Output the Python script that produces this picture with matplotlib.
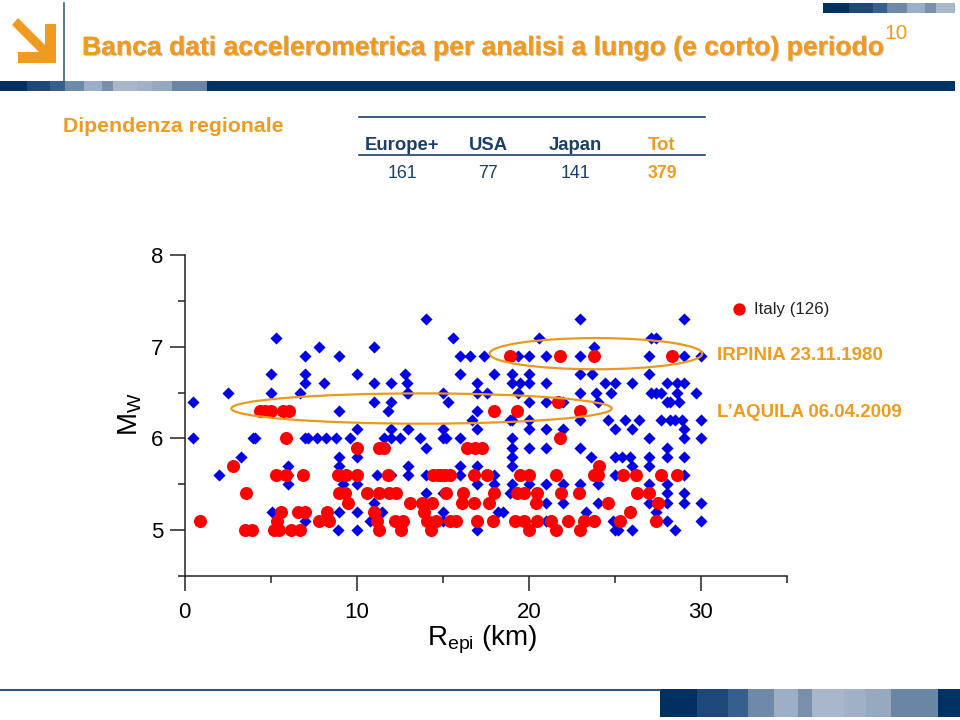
import matplotlib
matplotlib.use('Agg')
import matplotlib.pyplot as plt
from matplotlib.patches import Ellipse, Rectangle
import matplotlib.patheffects as pe

plt.rcParams['font.family'] = ['Liberation Sans', 'DejaVu Sans']
plt.rcParams['mathtext.fontset'] = 'custom'
plt.rcParams['mathtext.rm'] = 'Liberation Sans'

ORANGE = '#F09B20'
NAVY = '#1B3F66'

# world records: repi (km), magnitude
world_r = [14.0, 29.0, 23.0,
           5.3, 15.6, 20.6, 27.1, 27.4,
           7.8, 11.0, 23.8,
           7.0, 9.0, 16.0, 16.6, 17.4, 19.4, 20.0, 21.0, 23.0, 27.0, 29.0, 30.0,
           5.0, 7.0, 10.0, 12.8, 16.0, 18.0, 19.0, 20.0, 23.0, 23.7, 27.0,
           7.0, 8.1, 11.0, 12.0, 12.9, 17.0, 19.0, 19.5, 20.0, 21.0, 24.4, 25.0, 26.0, 28.0, 28.6, 29.0,
           2.5, 5.0, 6.7, 12.9, 13.0, 15.0, 17.0, 17.6, 19.4, 23.0, 23.9, 24.8, 27.1, 27.4, 27.7, 28.6, 29.7,
           0.5, 11.0, 12.0, 15.3, 20.0, 21.0, 22.0, 24.0, 28.0, 28.2, 28.7,
           9.0, 11.8, 17.0,
           16.7, 18.9, 19.0, 20.0, 23.0, 24.6, 25.6, 26.4, 27.7, 28.2, 28.5, 28.9, 30.0,
           10.0, 12.0, 13.0, 15.0, 17.0, 20.0, 21.0, 22.0, 25.0, 26.0, 29.0,
           0.5, 4.0, 4.1, 7.0, 7.2, 7.7, 8.2, 8.8, 9.6, 11.6, 12.0, 12.5, 13.7, 15.0, 15.2, 16.0, 19.0, 27.0, 29.0, 30.0,
           14.0, 19.0, 20.0, 21.0, 23.0, 28.0,
           3.3, 9.0, 10.0, 19.0, 23.6, 25.0, 25.4, 25.9, 27.0, 28.0, 29.0,
           6.0, 9.0, 13.0, 16.0, 17.0, 19.0, 26.0, 27.0,
           2.0, 6.0, 11.2, 12.0, 13.0, 14.0, 16.0, 18.0, 25.0, 29.0,
           6.0, 9.2, 10.0, 17.0, 18.0, 19.0, 20.0, 21.0, 22.0, 23.0, 24.0, 27.0, 28.0,
           14.0, 15.0, 18.9, 28.0, 29.0,
           11.0, 21.0, 22.0, 24.0, 27.0, 28.0, 29.0, 30.0,
           5.1, 9.0, 10.0, 11.5, 15.0, 18.2, 18.5, 23.3, 27.4,
           7.0, 10.8, 15.0, 21.0, 24.9, 28.0, 30.0,
           8.9, 10.0, 17.0, 25.0, 25.2, 26.0, 28.5]
world_m = [7.3, 7.3, 7.3,
           7.1, 7.1, 7.1, 7.1, 7.1,
           7.0, 7.0, 7.0,
           6.9, 6.9, 6.9, 6.9, 6.9, 6.9, 6.9, 6.9, 6.9, 6.9, 6.9, 6.9,
           6.7, 6.7, 6.7, 6.7, 6.7, 6.7, 6.7, 6.7, 6.7, 6.7, 6.7,
           6.6, 6.6, 6.6, 6.6, 6.6, 6.6, 6.6, 6.6, 6.6, 6.6, 6.6, 6.6, 6.6, 6.6, 6.6, 6.6,
           6.5, 6.5, 6.5, 6.5, 6.5, 6.5, 6.5, 6.5, 6.5, 6.5, 6.5, 6.5, 6.5, 6.5, 6.5, 6.5, 6.5,
           6.4, 6.4, 6.4, 6.4, 6.4, 6.4, 6.4, 6.4, 6.4, 6.4, 6.4,
           6.3, 6.3, 6.3,
           6.2, 6.2, 6.2, 6.2, 6.2, 6.2, 6.2, 6.2, 6.2, 6.2, 6.2, 6.2, 6.2,
           6.1, 6.1, 6.1, 6.1, 6.1, 6.1, 6.1, 6.1, 6.1, 6.1, 6.1,
           6.0, 6.0, 6.0, 6.0, 6.0, 6.0, 6.0, 6.0, 6.0, 6.0, 6.0, 6.0, 6.0, 6.0, 6.0, 6.0, 6.0, 6.0, 6.0, 6.0,
           5.9, 5.9, 5.9, 5.9, 5.9, 5.9,
           5.8, 5.8, 5.8, 5.8, 5.8, 5.8, 5.8, 5.8, 5.8, 5.8, 5.8,
           5.7, 5.7, 5.7, 5.7, 5.7, 5.7, 5.7, 5.7,
           5.6, 5.6, 5.6, 5.6, 5.6, 5.6, 5.6, 5.6, 5.6, 5.6,
           5.5, 5.5, 5.5, 5.5, 5.5, 5.5, 5.5, 5.5, 5.5, 5.5, 5.5, 5.5, 5.5,
           5.4, 5.4, 5.4, 5.4, 5.4,
           5.3, 5.3, 5.3, 5.3, 5.3, 5.3, 5.3, 5.3,
           5.2, 5.2, 5.2, 5.2, 5.2, 5.2, 5.2, 5.2, 5.2,
           5.1, 5.1, 5.1, 5.1, 5.1, 5.1, 5.1,
           5.0, 5.0, 5.0, 5.0, 5.0, 5.0, 5.0]

# italian records
italy_r = [18.9, 21.8, 23.8, 28.3,
           21.7,
           4.4, 4.7, 5.0, 5.7, 6.05, 18.0, 19.3, 23.0,
           5.9, 21.8,
           10.0, 11.3, 11.6, 16.4, 16.9, 17.3,
           2.8, 24.1,
           5.3, 5.9, 6.9, 8.9, 9.4, 10.0, 11.8, 14.45, 14.7, 14.9, 15.15, 15.4, 16.8, 17.6, 19.5, 20.0, 21.6, 23.8, 24.0, 25.5, 26.2, 27.7, 28.6,
           3.6, 9.0, 9.3, 10.6, 11.3, 11.9, 12.3, 15.2, 16.2, 18.0, 19.3, 19.7, 20.5, 21.9, 22.9, 26.3, 27.0,
           9.5, 13.1, 13.8, 14.4, 16.1, 16.8, 17.7, 20.4, 24.6, 27.5,
           5.6, 6.6, 7.0, 8.3, 11.0, 13.9, 25.9,
           0.9, 5.4, 7.8, 8.4, 11.2, 12.2, 12.7, 14.1, 14.6, 15.4, 15.8, 17.0, 17.9, 19.2, 19.7, 20.5, 21.3, 22.3, 23.2, 23.8, 25.3, 27.4,
           3.5, 3.9, 5.2, 5.5, 6.2, 6.7, 11.3, 12.6, 14.3, 20.0, 21.6, 23.0]
italy_m = [6.9, 6.9, 6.9, 6.9,
           6.4,
           6.3, 6.3, 6.3, 6.3, 6.3, 6.3, 6.3, 6.3,
           6.0, 6.0,
           5.9, 5.9, 5.9, 5.9, 5.9, 5.9,
           5.7, 5.7,
           5.6, 5.6, 5.6, 5.6, 5.6, 5.6, 5.6, 5.6, 5.6, 5.6, 5.6, 5.6, 5.6, 5.6, 5.6, 5.6, 5.6, 5.6, 5.6, 5.6, 5.6, 5.6, 5.6,
           5.4, 5.4, 5.4, 5.4, 5.4, 5.4, 5.4, 5.4, 5.4, 5.4, 5.4, 5.4, 5.4, 5.4, 5.4, 5.4, 5.4,
           5.3, 5.3, 5.3, 5.3, 5.3, 5.3, 5.3, 5.3, 5.3, 5.3,
           5.2, 5.2, 5.2, 5.2, 5.2, 5.2, 5.2,
           5.1, 5.1, 5.1, 5.1, 5.1, 5.1, 5.1, 5.1, 5.1, 5.1, 5.1, 5.1, 5.1, 5.1, 5.1, 5.1, 5.1, 5.1, 5.1, 5.1, 5.1, 5.1,
           5.0, 5.0, 5.0, 5.0, 5.0, 5.0, 5.0, 5.0, 5.0, 5.0, 5.0, 5.0]

regions = ['Europe+', 'USA', 'Japan', 'Tot']
counts = ['161', '77', '141', '379']

# band colours of the slide template
top_edges = [0, 27, 50, 65, 84, 102, 113, 137, 152, 172, 207, 955]
top_colors = ['#00305f', '#1e4877', '#355f8c', '#6f8aa8', '#9cafc6', '#7990ac',
              '#a8b7ca', '#a0b1c6', '#96a9be', '#6a86a5', '#003264']
corner_edges = [823, 849, 873, 887, 907, 925, 936, 955]
corner_colors = top_colors[:7]
foot_edges = [660, 697, 728, 748, 774, 798, 812, 844, 866, 891, 938, 960]
foot_colors = top_colors


def band(bg, edges, colors, y0, y1):
    for i, c in enumerate(colors):
        bg.add_patch(Rectangle((edges[i], y0), edges[i + 1] - edges[i], y1 - y0,
                               fc=c, ec='none'))


fig = plt.figure(figsize=(9.6, 7.2), dpi=100)

# slide background drawn in pixel coordinates
bg = fig.add_axes([0, 0, 1, 1])
bg.set_xlim(0, 960)
bg.set_ylim(720, 0)
bg.axis('off')

band(bg, top_edges, top_colors, 81, 91)
band(bg, corner_edges, corner_colors, 3, 13)
band(bg, foot_edges, foot_colors, 689, 717)
bg.plot([0, 660], [689.5, 689.5], color='#2F5575', lw=1.5)
bg.plot([64, 64], [3, 81], color='#3C5F80', lw=1.2)

# arrow logo
bg.fill([18, 12, 39, 18, 18, 56, 56, 45, 45], [18, 25, 52, 52, 63, 63, 24, 24, 45], color=ORANGE, lw=0)

title = bg.text(82, 55, 'Banca dati accelerometrica per analisi a lungo (e corto) periodo',
                fontsize=19.1, fontweight='bold', color=ORANGE, va='baseline')
title.set_path_effects([pe.withSimplePatchShadow(offset=(0.8, -0.8), shadow_rgbFace='#999999', alpha=0.5),
                        pe.Normal()])
bg.text(884, 39, '10', fontsize=15, color=ORANGE, va='baseline')
bg.text(63, 132, 'Dipendenza regionale', fontsize=15.3, fontweight='bold', color=ORANGE, va='baseline')

bg.plot([359, 705], [117, 117], color=NAVY, lw=1.2)
bg.plot([359, 705], [155, 155], color=NAVY, lw=1.2)
col_x = [402, 488, 575, 662]
for i in range(4):
    last = i == 3
    bg.text(col_x[i], 150, regions[i], fontsize=13.3, fontweight='bold', ha='center', va='baseline',
            color=ORANGE if last else NAVY)
    bg.text(col_x[i], 178, counts[i], fontsize=12.8, fontweight='bold' if last else 'normal',
            ha='center', va='baseline', color=ORANGE if last else NAVY)

# scatter
ax = fig.add_axes([184.5 / 960, 1 - 576 / 720, (787 - 184.5) / 960, (576 - 255) / 720])
ax.patch.set_alpha(0)
ax.scatter(world_r, world_m, marker='D', s=38, color='#0000E6', linewidths=0, clip_on=False, zorder=2)
ax.scatter(italy_r, italy_m, marker='o', s=88, color='#FF0000', linewidths=0, clip_on=False, zorder=3,
           label='Italy (126)')

ax.set_xlim(0, 35)
ax.set_ylim(4.5, 8)
ax.spines['top'].set_visible(False)
ax.spines['right'].set_visible(False)
for side in ['left', 'bottom']:
    ax.spines[side].set_linewidth(1.1)
    ax.spines[side].set_color('#222222')

ax.set_xticks([0, 10, 20, 30])
ax.set_xticks([5, 15, 25, 35], minor=True)
ax.set_yticks([5, 6, 7, 8])
ax.set_yticks([4.5, 5.5, 6.5, 7.5], minor=True)
ax.tick_params(which='major', length=10.5, width=1.1, labelsize=16, color='#222222')
ax.tick_params(which='minor', length=5, width=1.1, color='#222222')
ax.tick_params(axis='x', which='major', pad=8.5)
ax.tick_params(axis='y', which='major', pad=5)

ax.text(17.3, 3.8, r'$\mathrm{R_{epi}}$ (km)', fontsize=20, ha='center', va='center', clip_on=False)
ax.text(-3.15, 6.27, r'$\mathrm{M_W}$', fontsize=20, rotation=90, ha='center', va='center', clip_on=False)

ax.add_patch(Ellipse((13.77, 6.326), 22.1, 0.33, fc='none', ec='#E89A1E', lw=1.6, zorder=4, clip_on=False))
ax.add_patch(Ellipse((23.9, 6.924), 12.35, 0.34, fc='none', ec='#E89A1E', lw=1.6, zorder=4, clip_on=False))

ax.legend(loc='upper left', bbox_to_anchor=(0.9, 0.855), frameon=False, fontsize=12.2, handletextpad=0.1,
          handlelength=1.5, markerscale=0.95, borderpad=0, borderaxespad=0, labelcolor='#222222')

ax.text(30.95, 6.9, 'IRPINIA 23.11.1980', fontsize=13.5, fontweight='bold', color=ORANGE, va='center', clip_on=False)
ax.text(30.95, 6.28, 'L\u2019AQUILA 06.04.2009', fontsize=13.45, fontweight='bold', color=ORANGE, va='center', clip_on=False)

fig.savefig('out.png', dpi=100)
